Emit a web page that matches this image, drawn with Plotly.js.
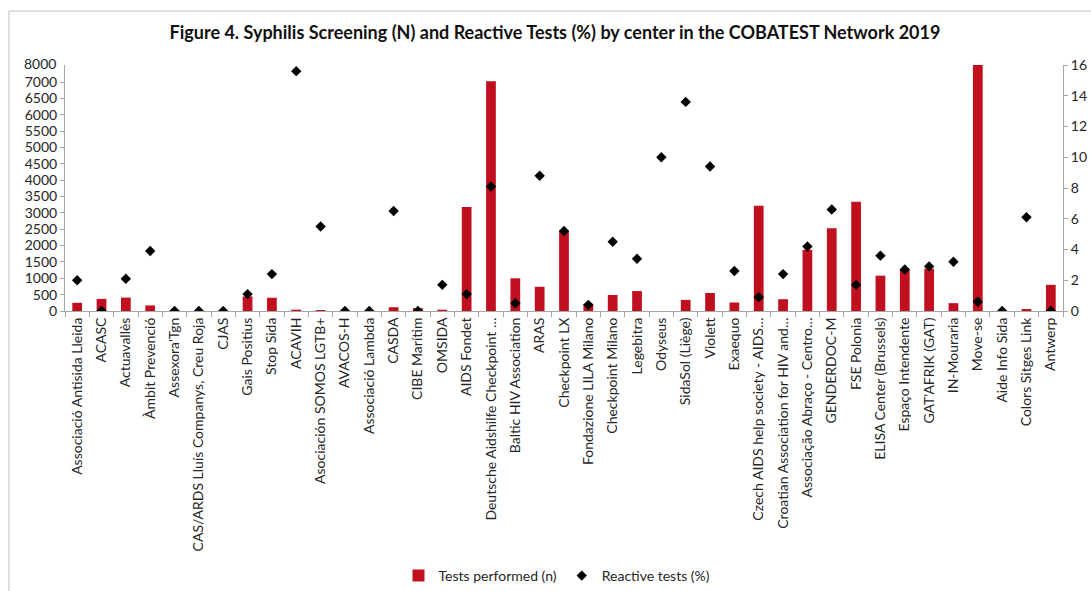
<!DOCTYPE html>
<html>
<head>
<meta charset="utf-8">
<script src="https://cdn.plot.ly/plotly-3.0.1.min.js"></script>
<style>html,body{margin:0;padding:0;background:#fff;}#chart{width:1091px;height:591px;}</style>
</head>
<body>
<div id="chart"></div>
<script>
const centers = [
  "Associació Antisida Lleida", "ACASC", "Actuavallès", "Àmbit Prevenció", "Assexora'Tgn",
  "CAS/ARDS Lluís Companys, Creu Roja", "CJAS", "Gais Positius", "Stop Sida", "ACAVIH",
  "Asociación SOMOS LGTB+", "AVACOS-H", "Associació Lambda", "CASDA", "CIBE Marítim",
  "OMSIDA", "AIDS Fondet", "Deutsche Aidshilfe Checkpoint …", "Baltic HIV Association", "ARAS",
  "Checkpoint LX", "Fondazione LILA Milano", "Checkpoint Milano", "Legebitra", "Odyseus",
  "SidaSol (Liège)", "Violett", "Exaequo", "Czech AIDS help society - AIDS…", "Croatian Association for HIV and…",
  "Associação Abraço - Centro…", "GENDERDOC-M", "FSE Polonia", "ELISA Center (Brussels)", "Espaço Intendente",
  "GAT'AFRIK (GAT)", "IN-Mouraria", "Move-se", "Aide Info Sida", "Colors Sitges Link", "Antwerp"
];
const testsPerformed = [
  250, 370, 410, 170, 30,
  0, 0, 445, 405, 40,
  30, 0, 0, 115, 90,
  40, 3180, 7020, 1000, 740,
  2460, 220, 490, 610, 0,
  340, 550, 260, 3220, 360,
  1870, 2530, 3340, 1080, 1270,
  1290, 240, 7520, 0, 60, 800
];
const reactivePct = [
  2.0, 0, 2.1, 3.9, 0,
  0, 0, 1.1, 2.4, 15.6,
  5.5, 0, 0, 6.5, 0,
  1.7, 1.1, 8.1, 0.5, 8.8,
  5.2, 0.4, 4.5, 3.4, 10.0,
  13.6, 9.4, 2.6, 0.9, 2.4,
  4.2, 6.6, 1.7, 3.6, 2.7,
  2.9, 3.2, 0.6, 0, 6.1, 0
];
const leftTicks = [0,500,1000,1500,2000,2500,3000,3500,4000,4500,5000,5500,6000,6500,7000];
const rightTicks = [0,2,4,6,8,10,12,14,16];

const FONT = "Lato, 'Open Sans', sans-serif";
const TXT = "#262626";
const AX = "#a6a6a6";

const traces = [
  {
    type: "bar", name: "Tests performed (n)", x: centers, y: testsPerformed,
    marker: {color: "#c0101f"}, yaxis: "y"
  },
  {
    type: "scatter", mode: "markers", name: "Reactive tests (%)", x: centers, y: reactivePct,
    marker: {symbol: "diamond", color: "#000", size: 8}, yaxis: "y2"
  }
];

const W = 998, H = 246;
const px = v => (v - 65) / W;
const py = v => (311 - v) / H;

const layout = {
  width: 1091, height: 591,
  margin: {l: 65, r: 28, t: 65, b: 280, autoexpand: false},
  paper_bgcolor: "#fff", plot_bgcolor: "#fff",
  font: {family: FONT, color: TXT, size: 14},
  title: {
    text: "<b>Figure 4. Syphilis Screening (N) and Reactive Tests (%) by center in the COBATEST Network 2019</b>",
    font: {family: FONT, size: 18, color: "#111"},
    x: px(555), xref: "paper", xanchor: "center", y: 1 - 33/591, yanchor: "middle"
  },
  bargap: 0.6,
  showlegend: true,
  legend: {
    orientation: "h", x: px(557), xanchor: "center", y: py(576), yanchor: "middle",
    font: {family: FONT, size: 14, color: TXT}, itemwidth: 30, traceorder: "normal"
  },
  xaxis: {
    type: "category", range: [-0.5, centers.length - 0.5], autorange: false,
    tickangle: -90, tickson: "boundaries", ticks: "outside", ticklen: 5,
    tickcolor: AX, showline: true, linecolor: AX, linewidth: 1, showgrid: false,
    tickfont: {family: FONT, size: 14, color: TXT}, automargin: false
  },
  yaxis: {
    range: [0, 7520], tickvals: leftTicks, ticktext: leftTicks.map(String),
    ticks: "outside", ticklen: 4, tickcolor: AX, showline: true, linecolor: AX,
    showgrid: false, zeroline: false, tickfont: {family: FONT, size: 14, color: TXT},
    automargin: false
  },
  yaxis2: {
    overlaying: "y", side: "right", range: [0, 16], tickvals: rightTicks,
    ticks: "outside", ticklen: 4, tickcolor: AX, showline: true, linecolor: AX,
    showgrid: false, zeroline: false, tickfont: {family: FONT, size: 14, color: TXT},
    automargin: false
  },
  annotations: [
    {text: "8000", xref: "paper", yref: "paper", x: px(58), y: py(64), xanchor: "right", yanchor: "middle",
     showarrow: false, font: {family: FONT, size: 14, color: TXT}}
  ],
  shapes: [
    {type: "line", xref: "paper", yref: "paper", x0: px(9), x1: px(1100), y0: py(11), y1: py(11),
     line: {color: "#bfbfbf", width: 1}},
    {type: "line", xref: "paper", yref: "paper", x0: px(9), x1: px(9), y0: py(11), y1: py(600),
     line: {color: "#bfbfbf", width: 1}}
  ]
};

Plotly.newPlot("chart", traces, layout, {displayModeBar: false, staticPlot: true});
</script>
</body>
</html>
